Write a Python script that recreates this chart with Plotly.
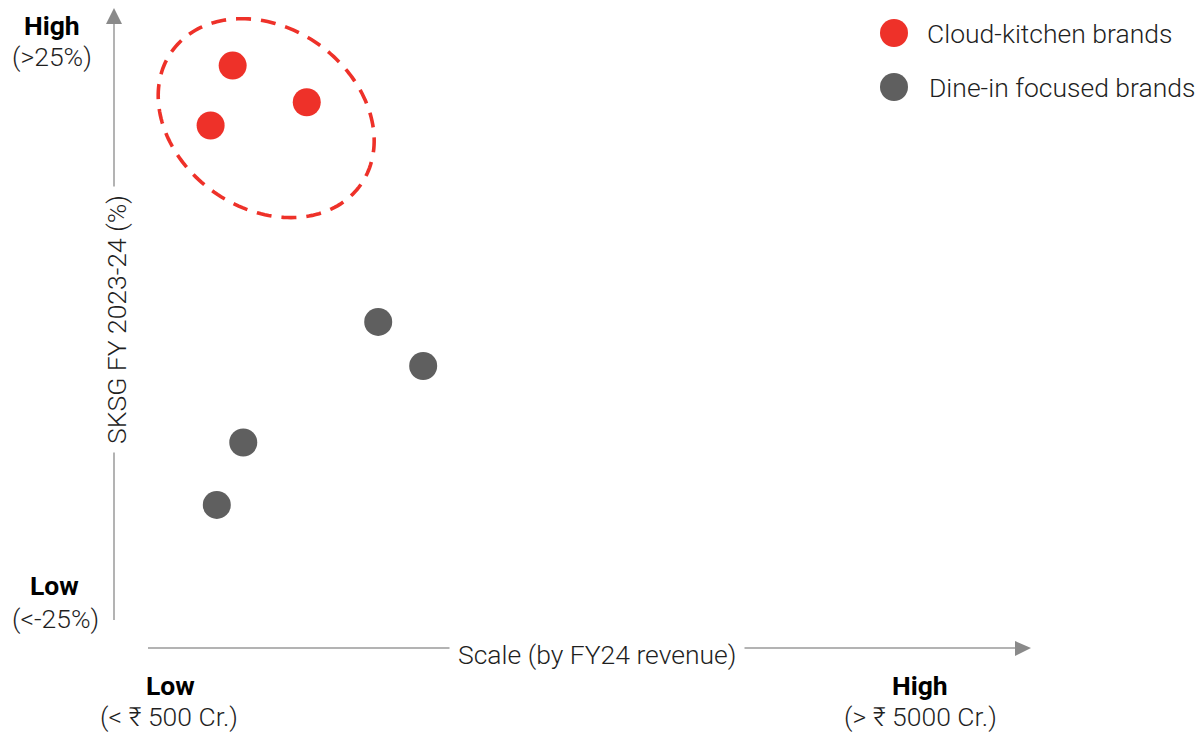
import math
import plotly.graph_objects as go

# ---- data (abstract scale: revenue score 0..100, SKSG % -25..25) ----
cloud_names = ["Cloud-kitchen A", "Cloud-kitchen B", "Cloud-kitchen C"]
cloud_scale = [9.6, 18.0, 7.1]
cloud_sksg = [20.3, 17.3, 15.4]

dine_names = ["Dine-in A", "Dine-in B", "Dine-in C", "Dine-in D"]
dine_scale = [26.1, 31.2, 10.8, 7.8]
dine_sksg = [-0.65, -4.25, -10.5, -15.6]

# cluster ellipse (centre in data units; semi-axes in px, tilt in degrees)
cluster_center = (13.4, 16.0)
cluster_axes_px = (115.6, 90.5)
cluster_tilt = 35

W, H = 1197, 734
RED = "#EE3129"
GREY = "#5F5F5F"
AX = "#9A9A9A"
TXT = "#1f1f1f"
FONT = "Roboto"
FS = 26.5

# data-to-pixel frame: x=0 at px 148, x=100 at px 1030 ; y=25 at px 8, y=-25 at px 620
sx = (1030 - 148) / 100.0
sy = (620 - 8) / 50.0
x_range = [-148 / sx, (W - 148) / sx]
y_range = [-25 - (H - 620) / sy, 25 + 8 / sy]

def X(px):
    return px / W

def Y(py):
    return 1 - py / H

fig = go.Figure()
fig.add_trace(go.Scatter(x=cloud_scale, y=cloud_sksg, mode="markers", name="Cloud-kitchen brands",
                         text=cloud_names, marker=dict(size=28, color=RED), cliponaxis=False,
                         showlegend=False))
fig.add_trace(go.Scatter(x=dine_scale, y=dine_sksg, mode="markers", name="Dine-in focused brands",
                         text=dine_names, marker=dict(size=28, color=GREY), cliponaxis=False,
                         showlegend=False))

shapes = []
# tilted ellipse around cloud kitchen brands
a, b = cluster_axes_px
th = math.radians(cluster_tilt)
pts = []
for i in range(180):
    t = 2 * math.pi * i / 180
    dx = a * math.cos(t) * math.cos(th) - b * math.sin(t) * math.sin(th)
    dy = a * math.cos(t) * math.sin(th) + b * math.sin(t) * math.cos(th)  # screen, y down
    pts.append((cluster_center[0] + dx / sx, cluster_center[1] - dy / sy))
path = "M " + " L ".join(f"{px:.4f},{py:.4f}" for px, py in pts) + " Z"
shapes.append(dict(type="path", xref="x", yref="y", path=path,
                   line=dict(color=RED, width=3.6, dash="15px,10px"), layer="below"))
# y axis arrow
shapes.append(dict(type="line", xref="paper", yref="paper", x0=X(114), x1=X(114), y0=Y(620), y1=Y(22),
                   line=dict(color=AX, width=1.5)))
shapes.append(dict(type="path", xref="paper", yref="paper",
                   path=f"M {X(114)} {Y(8)} L {X(106)} {Y(24)} L {X(122)} {Y(24)} Z",
                   fillcolor="#8A8A8A", line=dict(width=0)))
# x axis arrow
shapes.append(dict(type="line", xref="paper", yref="paper", x0=X(148), x1=X(1018), y0=Y(648), y1=Y(648),
                   line=dict(color=AX, width=1.5)))
shapes.append(dict(type="path", xref="paper", yref="paper",
                   path=f"M {X(1031)} {Y(648)} L {X(1015)} {Y(641)} L {X(1015)} {Y(656)} Z",
                   fillcolor="#8A8A8A", line=dict(width=0)))
# legend markers
for cy, col in [(33, RED), (87, GREY)]:
    shapes.append(dict(type="circle", xref="paper", yref="paper", x0=X(880), x1=X(908),
                       y0=Y(cy + 14), y1=Y(cy - 14), fillcolor=col, line=dict(width=0)))

ann = []
def txt(t, px, py, size=FS, bold=False, **kw):
    d = dict(text=t, xref="paper", yref="paper", x=X(px), y=Y(py), showarrow=False,
             xanchor="center", yanchor="middle",
             font=dict(family=FONT, size=size, color="#000" if bold else TXT, weight=700 if bold else 300))
    d.update(kw)
    ann.append(d)

txt("High", 52, 25, bold=True)
txt("(>25%)", 52, 56)
txt("Low", 54, 585, bold=True)
txt("(<-25%)", 55, 618)
txt("Low", 170, 685, bold=True)
txt("(< ₹ 500 Cr.)", 169, 716)
txt("High", 920, 685, bold=True)
txt("(> ₹ 5000 Cr.)", 920, 716)
txt("Scale (by FY24 revenue)", 597, 654, bgcolor="white", borderpad=8)
txt("SKSG FY 2023-24 (%)", 116, 320, textangle=-90, bgcolor="white", borderpad=8)
txt("Cloud-kitchen brands", 925, 33, xanchor="left")
txt("Dine-in focused brands", 927, 87, xanchor="left")

fig.update_layout(
    width=W, height=H, margin=dict(l=0, r=0, t=0, b=0),
    paper_bgcolor="white", plot_bgcolor="white",
    xaxis=dict(range=x_range, visible=False, domain=[0, 1]),
    yaxis=dict(range=y_range, visible=False, domain=[0, 1]),
    shapes=shapes, annotations=ann, showlegend=False,
    font=dict(family=FONT),
)
fig.write_html("out.html")
